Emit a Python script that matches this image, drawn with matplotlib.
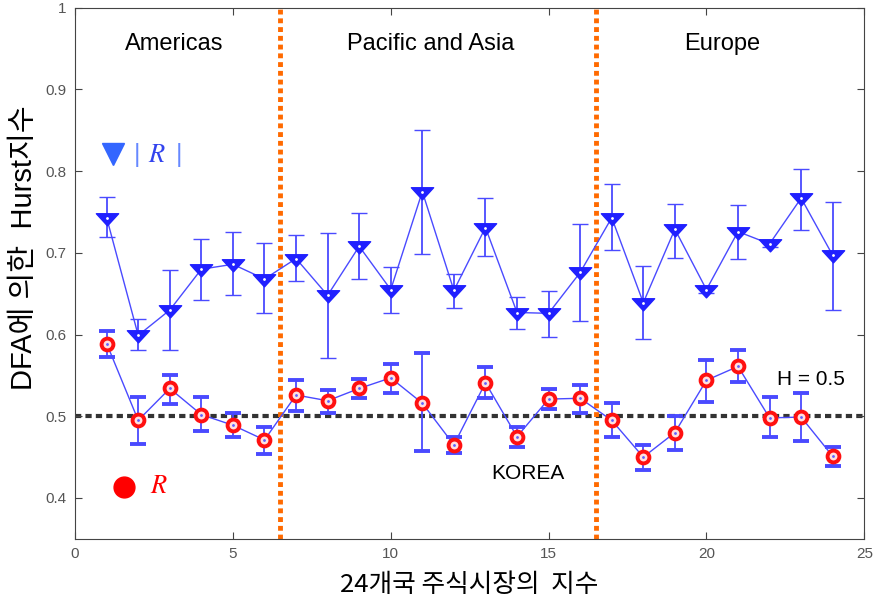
import matplotlib
matplotlib.use("Agg")
import matplotlib.pyplot as plt
from matplotlib.path import Path

plt.rcParams['font.family'] = ['Liberation Sans', 'Noto Sans CJK KR', 'DejaVu Sans']
plt.rcParams['mathtext.fontset'] = 'stix'

markets = list(range(1, 25))

# |R| series (triangles)
abs_h = [0.743, 0.599, 0.630, 0.680, 0.686, 0.668, 0.693, 0.648, 0.708, 0.655, 0.775, 0.654,
         0.731, 0.627, 0.626, 0.676, 0.743, 0.639, 0.729, 0.655, 0.726, 0.711, 0.767, 0.697]
abs_hi = [0.768, 0.619, 0.679, 0.717, 0.725, 0.712, 0.722, 0.724, 0.749, 0.683, 0.851, 0.674,
          0.767, 0.646, 0.653, 0.735, 0.784, 0.684, 0.760, 0.659, 0.758, 0.715, 0.803, 0.762]
abs_lo = [0.719, 0.581, 0.581, 0.642, 0.648, 0.626, 0.665, 0.571, 0.668, 0.627, 0.699, 0.633,
          0.696, 0.607, 0.597, 0.617, 0.703, 0.594, 0.694, 0.651, 0.692, 0.707, 0.728, 0.630]

# R series (circles)
raw_h = [0.589, 0.495, 0.534, 0.502, 0.489, 0.471, 0.526, 0.519, 0.534, 0.547, 0.516, 0.465,
         0.541, 0.475, 0.521, 0.522, 0.495, 0.450, 0.480, 0.544, 0.561, 0.498, 0.499, 0.451]
raw_hi = [0.604, 0.523, 0.551, 0.523, 0.504, 0.487, 0.544, 0.532, 0.546, 0.564, 0.577, 0.475,
          0.560, 0.487, 0.533, 0.538, 0.516, 0.465, 0.500, 0.569, 0.581, 0.523, 0.528, 0.462]
raw_lo = [0.572, 0.466, 0.515, 0.482, 0.474, 0.454, 0.506, 0.504, 0.522, 0.529, 0.457, 0.455,
          0.522, 0.462, 0.509, 0.504, 0.474, 0.434, 0.459, 0.517, 0.542, 0.474, 0.470, 0.439]

regions = ["Americas", "Pacific and Asia", "Europe"]
region_x = [3.15, 11.25, 20.5]
dividers = [6.5, 16.5]

# wide, flat downward triangle like the original
tri = Path([(-11, 4.7), (11, 4.7), (0, -7.3), (-11, 4.7)],
           [Path.MOVETO, Path.LINETO, Path.LINETO, Path.CLOSEPOLY])

fig = plt.figure(figsize=(8.73, 5.98), dpi=100)
ax = fig.add_axes([0.086, 0.099, 0.904, 0.888])

blue = '#2020ff'
line_blue = '#4a4aff'

ax.axhline(0.5, color='#333333', ls=(0, (1.5, 1)), lw=3, zorder=1)
for d in dividers:
    ax.axvline(d, color='#ff6a00', ls=(0, (1, 0.8)), lw=3.5, zorder=1)

err_abs = [[h - l for h, l in zip(abs_h, abs_lo)], [u - h for h, u in zip(abs_h, abs_hi)]]
ax.errorbar(markets, abs_h, yerr=err_abs, color=line_blue, lw=1, elinewidth=1.3, capsize=6,
            capthick=1, marker=tri, ms=16, mfc=blue, mec=blue, zorder=3)
ax.plot(markets, abs_h, ls='none', marker='.', ms=2, color='white', zorder=4)

err_raw = [[h - l for h, l in zip(raw_h, raw_lo)], [u - h for h, u in zip(raw_h, raw_hi)]]
ax.errorbar(markets, raw_h, yerr=err_raw, color=line_blue, lw=1, elinewidth=1.3, capsize=6,
            capthick=1, marker='o', ms=8.5, mfc='#ffe0e0', mec='#ff1010', mew=2.8, zorder=3)
ax.plot(markets, raw_h, ls='none', marker='.', ms=2, color='#6060ff', zorder=4)

for name, x in zip(regions, region_x):
    ax.text(x, 0.956, name, ha='center', va='center', fontsize=17)

ax.text(23.3, 0.545, "H = 0.5", ha='center', va='center', fontsize=15)
ax.text(14.35, 0.430, "KOREA", ha='center', va='center', fontsize=15)

ax.plot([1.2], [0.821], marker='v', ms=16, color='#3366ff', ls='none')
ax.text(1.96, 0.82, "|", color='#6688ff', fontsize=18, ha='center', va='center')
ax.text(2.6, 0.82, r"$R$", color='#3344ee', fontsize=19, ha='center', va='center')
ax.text(3.28, 0.82, "|", color='#6688ff', fontsize=18, ha='center', va='center')
ax.plot([1.55], [0.414], marker='o', ms=15, color='red', ls='none')
ax.text(2.65, 0.415, r"$R$", color='red', fontsize=19, ha='center', va='center')

ax.set_xlim(0, 25)
ax.set_ylim(0.35, 1.0)
ax.set_xticks([0, 5, 10, 15, 20, 25])
ax.set_yticks([0.4, 0.5, 0.6, 0.7, 0.8, 0.9, 1.0])
ax.set_yticklabels(['0.4', '0.5', '0.6', '0.7', '0.8', '0.9', '1'])
ax.tick_params(direction='in', length=5, top=True, right=True, labelsize=11,
               labelcolor='#555555', color='#444444', pad=6)
for s in ax.spines.values():
    s.set_color('#444444')

ax.set_xlabel("24개국 주식시장의  지수", fontsize=18.5,
              family=['Noto Sans CJK KR', 'DejaVu Sans'], va='center')
ax.xaxis.set_label_coords(0.5, -0.087)
ax.set_ylabel("DFA에 의한  Hurst지수", fontsize=21,
              family=['Liberation Sans', 'Noto Sans CJK KR'])
ax.yaxis.set_label_coords(-0.047, 0.548)

fig.savefig("out.png", dpi=100)
